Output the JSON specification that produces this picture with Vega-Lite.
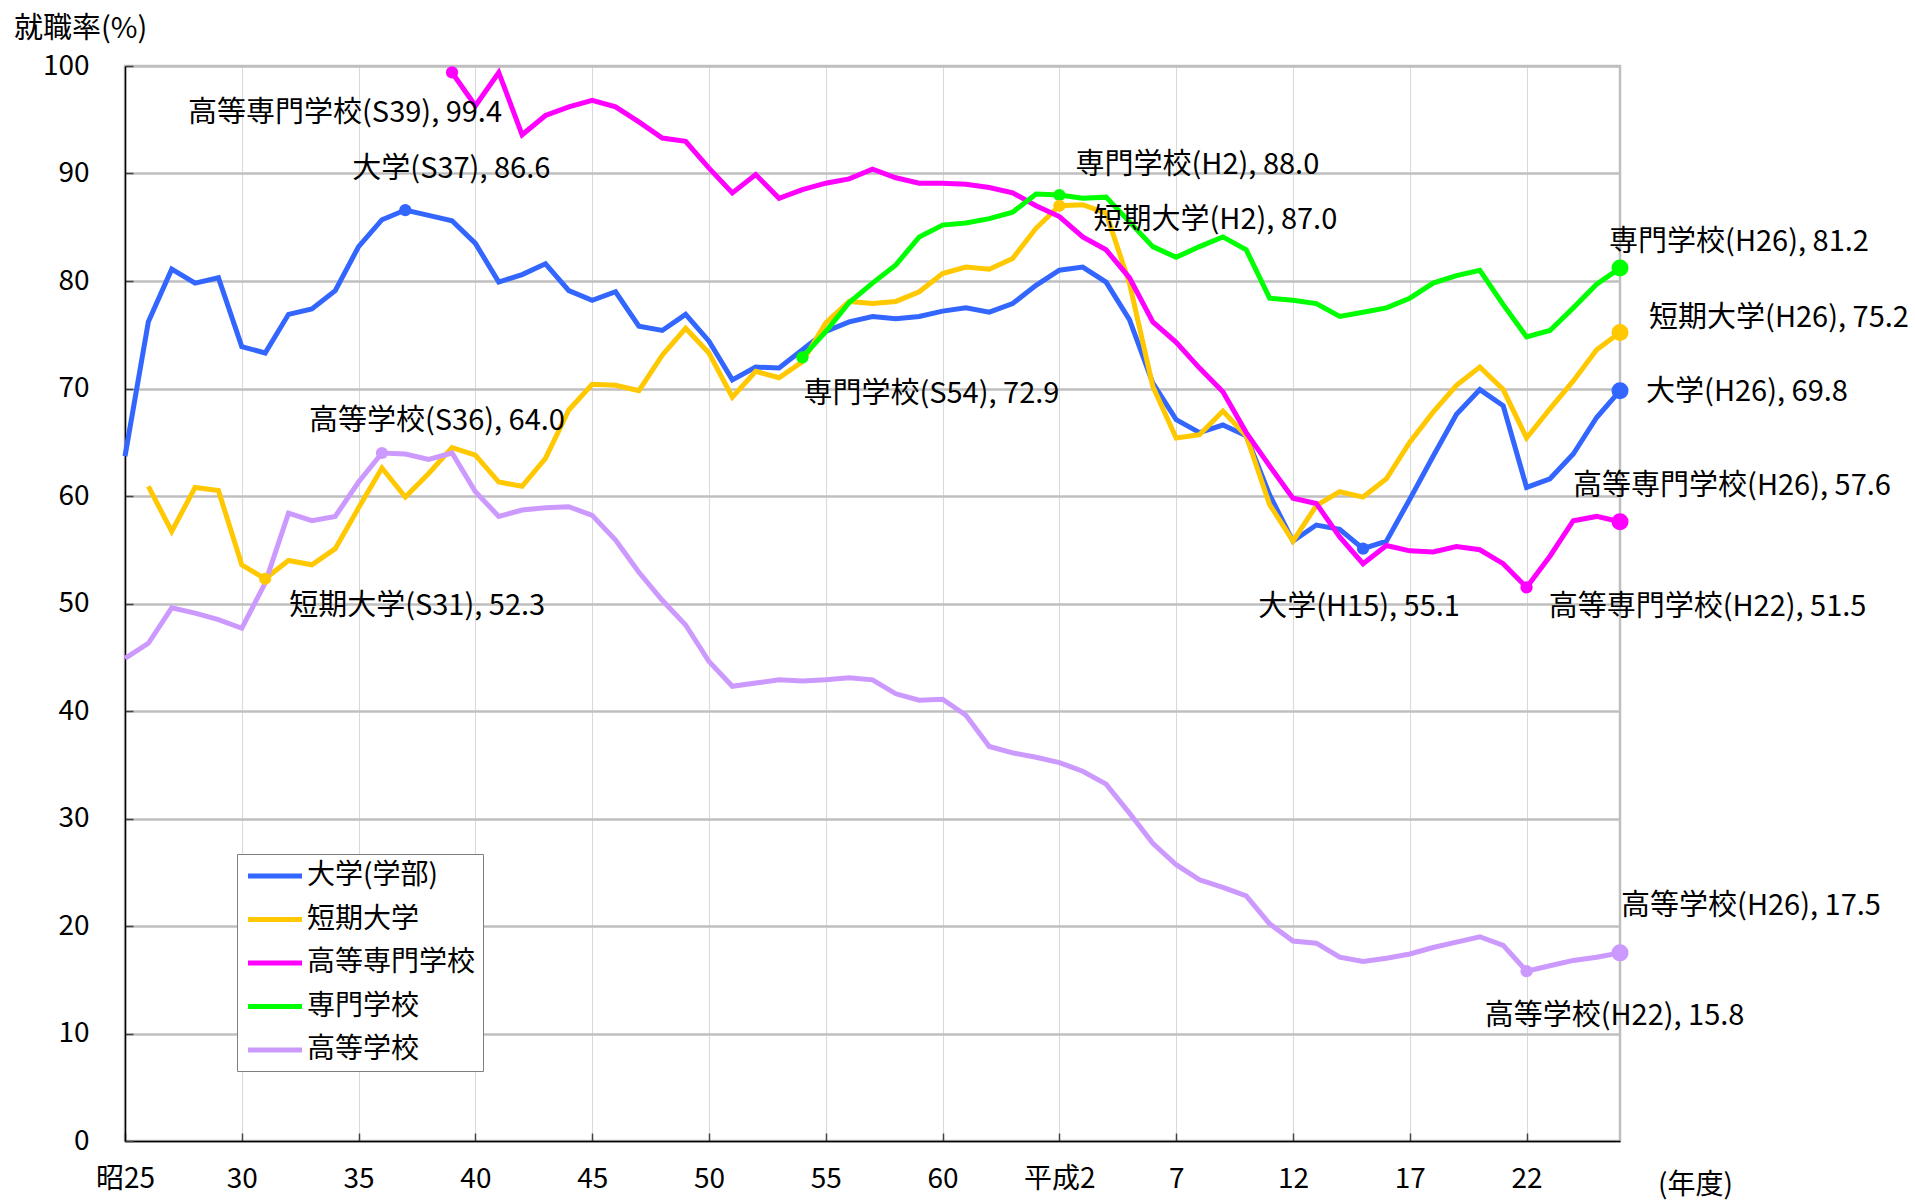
{
  "$schema": "https://vega.github.io/schema/vega-lite/v6.json",
  "autosize": {"type": "none"},
  "width": 1495,
  "height": 1075,
  "padding": {"left": 125, "top": 66, "right": 295, "bottom": 59},
  "background": "white",
  "title": {"text": "就職率(%)", "anchor": "start", "frame": "group", "fontSize": 29, "fontWeight": "normal", "font": "Noto Sans CJK JP", "color": "black", "dx": -111, "offset": -15, "baseline": "alphabetic"},
  "datasets": {
    "rates": [
      {"year":1950,"daigaku":63.7,"tandai":null,"kosen":null,"senmon":null,"koko":44.9},
      {"year":1951,"daigaku":76.2,"tandai":60.9,"kosen":null,"senmon":null,"koko":46.3},
      {"year":1952,"daigaku":81.1,"tandai":56.7,"kosen":null,"senmon":null,"koko":49.6},
      {"year":1953,"daigaku":79.8,"tandai":60.8,"kosen":null,"senmon":null,"koko":49.1},
      {"year":1954,"daigaku":80.3,"tandai":60.5,"kosen":null,"senmon":null,"koko":48.5},
      {"year":1955,"daigaku":73.9,"tandai":53.6,"kosen":null,"senmon":null,"koko":47.7},
      {"year":1956,"daigaku":73.3,"tandai":52.3,"kosen":null,"senmon":null,"koko":51.9},
      {"year":1957,"daigaku":76.9,"tandai":54.0,"kosen":null,"senmon":null,"koko":58.4},
      {"year":1958,"daigaku":77.4,"tandai":53.6,"kosen":null,"senmon":null,"koko":57.7},
      {"year":1959,"daigaku":79.1,"tandai":55.1,"kosen":null,"senmon":null,"koko":58.1},
      {"year":1960,"daigaku":83.2,"tandai":58.9,"kosen":null,"senmon":null,"koko":61.3},
      {"year":1961,"daigaku":85.7,"tandai":62.6,"kosen":null,"senmon":null,"koko":64.0},
      {"year":1962,"daigaku":86.6,"tandai":59.9,"kosen":null,"senmon":null,"koko":63.9},
      {"year":1963,"daigaku":86.1,"tandai":62.1,"kosen":null,"senmon":null,"koko":63.4},
      {"year":1964,"daigaku":85.6,"tandai":64.5,"kosen":99.4,"senmon":null,"koko":64.0},
      {"year":1965,"daigaku":83.5,"tandai":63.8,"kosen":96.3,"senmon":null,"koko":60.4},
      {"year":1966,"daigaku":79.9,"tandai":61.3,"kosen":99.4,"senmon":null,"koko":58.1},
      {"year":1967,"daigaku":80.6,"tandai":60.9,"kosen":93.6,"senmon":null,"koko":58.7},
      {"year":1968,"daigaku":81.6,"tandai":63.5,"kosen":95.4,"senmon":null,"koko":58.9},
      {"year":1969,"daigaku":79.1,"tandai":68.0,"kosen":96.2,"senmon":null,"koko":59.0},
      {"year":1970,"daigaku":78.2,"tandai":70.4,"kosen":96.8,"senmon":null,"koko":58.2},
      {"year":1971,"daigaku":79.0,"tandai":70.3,"kosen":96.2,"senmon":null,"koko":55.9},
      {"year":1972,"daigaku":75.8,"tandai":69.8,"kosen":94.8,"senmon":null,"koko":52.9},
      {"year":1973,"daigaku":75.4,"tandai":73.1,"kosen":93.3,"senmon":null,"koko":50.3},
      {"year":1974,"daigaku":76.9,"tandai":75.6,"kosen":93.0,"senmon":null,"koko":48.0},
      {"year":1975,"daigaku":74.4,"tandai":73.3,"kosen":90.5,"senmon":null,"koko":44.6},
      {"year":1976,"daigaku":70.8,"tandai":69.2,"kosen":88.2,"senmon":null,"koko":42.3},
      {"year":1977,"daigaku":72.0,"tandai":71.6,"kosen":89.9,"senmon":null,"koko":42.6},
      {"year":1978,"daigaku":71.9,"tandai":71.0,"kosen":87.7,"senmon":null,"koko":42.9},
      {"year":1979,"daigaku":73.6,"tandai":72.5,"kosen":88.5,"senmon":72.9,"koko":42.8},
      {"year":1980,"daigaku":75.3,"tandai":76.1,"kosen":89.1,"senmon":75.3,"koko":42.9},
      {"year":1981,"daigaku":76.2,"tandai":78.1,"kosen":89.5,"senmon":78.0,"koko":43.1},
      {"year":1982,"daigaku":76.7,"tandai":77.9,"kosen":90.4,"senmon":79.8,"koko":42.9},
      {"year":1983,"daigaku":76.5,"tandai":78.1,"kosen":89.6,"senmon":81.5,"koko":41.6},
      {"year":1984,"daigaku":76.7,"tandai":79.0,"kosen":89.1,"senmon":84.1,"koko":41.0},
      {"year":1985,"daigaku":77.2,"tandai":80.7,"kosen":89.1,"senmon":85.2,"koko":41.1},
      {"year":1986,"daigaku":77.5,"tandai":81.3,"kosen":89.0,"senmon":85.4,"koko":39.6},
      {"year":1987,"daigaku":77.1,"tandai":81.1,"kosen":88.7,"senmon":85.8,"koko":36.7},
      {"year":1988,"daigaku":77.9,"tandai":82.1,"kosen":88.2,"senmon":86.4,"koko":36.1},
      {"year":1989,"daigaku":79.6,"tandai":84.9,"kosen":87.0,"senmon":88.1,"koko":35.7},
      {"year":1990,"daigaku":81.0,"tandai":87.0,"kosen":86.0,"senmon":88.0,"koko":35.2},
      {"year":1991,"daigaku":81.3,"tandai":87.1,"kosen":84.1,"senmon":87.7,"koko":34.4},
      {"year":1992,"daigaku":79.9,"tandai":86.3,"kosen":82.9,"senmon":87.8,"koko":33.2},
      {"year":1993,"daigaku":76.4,"tandai":79.8,"kosen":80.3,"senmon":85.5,"koko":30.5},
      {"year":1994,"daigaku":70.5,"tandai":70.2,"kosen":76.2,"senmon":83.2,"koko":27.7},
      {"year":1995,"daigaku":67.1,"tandai":65.4,"kosen":74.3,"senmon":82.2,"koko":25.7},
      {"year":1996,"daigaku":65.9,"tandai":65.7,"kosen":71.9,"senmon":83.2,"koko":24.3},
      {"year":1997,"daigaku":66.6,"tandai":67.9,"kosen":69.7,"senmon":84.1,"koko":23.6},
      {"year":1998,"daigaku":65.6,"tandai":65.6,"kosen":65.9,"senmon":82.9,"koko":22.8},
      {"year":1999,"daigaku":60.1,"tandai":59.2,"kosen":62.8,"senmon":78.4,"koko":20.2},
      {"year":2000,"daigaku":55.8,"tandai":55.8,"kosen":59.8,"senmon":78.2,"koko":18.6},
      {"year":2001,"daigaku":57.3,"tandai":59.1,"kosen":59.3,"senmon":77.9,"koko":18.4},
      {"year":2002,"daigaku":56.9,"tandai":60.4,"kosen":56.2,"senmon":76.7,"koko":17.1},
      {"year":2003,"daigaku":55.1,"tandai":59.9,"kosen":53.7,"senmon":77.1,"koko":16.7},
      {"year":2004,"daigaku":55.8,"tandai":61.6,"kosen":55.4,"senmon":77.5,"koko":17.0},
      {"year":2005,"daigaku":59.7,"tandai":65.0,"kosen":54.9,"senmon":78.4,"koko":17.4},
      {"year":2006,"daigaku":63.7,"tandai":67.8,"kosen":54.8,"senmon":79.8,"koko":18.0},
      {"year":2007,"daigaku":67.6,"tandai":70.3,"kosen":55.3,"senmon":80.5,"koko":18.5},
      {"year":2008,"daigaku":69.9,"tandai":72.0,"kosen":55.0,"senmon":81.0,"koko":19.0},
      {"year":2009,"daigaku":68.4,"tandai":69.9,"kosen":53.7,"senmon":77.8,"koko":18.2},
      {"year":2010,"daigaku":60.8,"tandai":65.4,"kosen":51.5,"senmon":74.8,"koko":15.8},
      {"year":2011,"daigaku":61.6,"tandai":68.1,"kosen":54.4,"senmon":75.4,"koko":16.3},
      {"year":2012,"daigaku":63.9,"tandai":70.7,"kosen":57.7,"senmon":77.5,"koko":16.8},
      {"year":2013,"daigaku":67.3,"tandai":73.6,"kosen":58.1,"senmon":79.7,"koko":17.1},
      {"year":2014,"daigaku":69.8,"tandai":75.2,"kosen":57.6,"senmon":81.2,"koko":17.5}
    ],
    "pts": [
      {"s":"高等専門学校","year":1964,"v":99.4,"label":"高等専門学校(S39), 99.4"},
      {"s":"大学(学部)","year":1962,"v":86.6,"label":"大学(S37), 86.6"},
      {"s":"高等学校","year":1961,"v":64.0,"label":"高等学校(S36), 64.0"},
      {"s":"短期大学","year":1956,"v":52.3,"label":"短期大学(S31), 52.3"},
      {"s":"専門学校","year":1979,"v":72.9,"label":"専門学校(S54), 72.9"},
      {"s":"専門学校","year":1990,"v":88.0,"label":"専門学校(H2), 88.0"},
      {"s":"短期大学","year":1990,"v":87.0,"label":"短期大学(H2), 87.0"},
      {"s":"大学(学部)","year":2003,"v":55.1,"label":"大学(H15), 55.1"},
      {"s":"高等専門学校","year":2010,"v":51.5,"label":"高等専門学校(H22), 51.5"},
      {"s":"高等学校","year":2010,"v":15.8,"label":"高等学校(H22), 15.8"},
      {"s":"専門学校","year":2014,"v":81.2,"label":"専門学校(H26), 81.2"},
      {"s":"短期大学","year":2014,"v":75.2,"label":"短期大学(H26), 75.2"},
      {"s":"大学(学部)","year":2014,"v":69.8,"label":"大学(H26), 69.8"},
      {"s":"高等専門学校","year":2014,"v":57.6,"label":"高等専門学校(H26), 57.6"},
      {"s":"高等学校","year":2014,"v":17.5,"label":"高等学校(H26), 17.5"}
    ]
  },
  "encoding": {
    "x": {
      "field": "year", "type": "quantitative",
      "scale": {"domain": [1950, 2014], "nice": false, "zero": false},
      "axis": {
        "values": [1950,1955,1960,1965,1970,1975,1980,1985,1990,1995,2000,2005,2010],
        "labelExpr": "datum.value == 1950 ? '昭25' : datum.value == 1990 ? '平成2' : datum.value < 1989 ? '' + (datum.value - 1925) : '' + (datum.value - 1988)",
        "grid": true, "gridColor": "#d9d9d9", "gridWidth": 1,
        "domainColor": "black", "domainWidth": 1.5,
        "tickColor": "#444444", "tickSize": -8, "tickWidth": 1.5,
        "labelFontSize": 28, "labelColor": "black", "labelPadding": 32, "labelBaseline": "top",
        "labelFlush": false, "labelOverlap": false,
        "title": "(年度)", "titleFontSize": 28, "titleFontWeight": "normal", "titleColor": "black",
        "titleX": 1570, "titleY": 44, "titleBaseline": "middle", "titleAlign": "center"
      }
    }
  },
  "layer": [
    {
      "data": {"name": "rates"},
      "mark": {"type": "line", "strokeWidth": 5},
      "encoding": {
        "y": {
          "field": "daigaku", "type": "quantitative", "title": null,
          "scale": {"domain": [0, 100], "nice": false},
          "axis": {
            "values": [0,10,20,30,40,50,60,70,80,90,100],
            "grid": true, "gridColor": "#bfbfbf", "gridWidth": 2.5,
            "domainColor": "black", "domainWidth": 1.5,
            "tickColor": "#444444", "tickSize": -8, "tickWidth": 1.5,
            "labelFontSize": 28, "labelColor": "black", "labelPadding": 44,
            "title": null
          }
        },
        "color": {
          "datum": "大学(学部)",
          "scale": {"domain": ["大学(学部)", "短期大学", "高等専門学校", "専門学校", "高等学校"], "range": ["#3366ff", "#ffc800", "#ff00ff", "#00ff00", "#cc99ff"]},
          "legend": {
            "orient": "none", "legendX": 112, "legendY": 788, "title": null,
            "symbolType": "M-0.88,0H3.44", "symbolSize": 625, "symbolStrokeWidth": 5,
            "labelFontSize": 28, "labelFont": "Noto Sans CJK JP", "labelColor": "black", "labelLimit": 400,
            "fillColor": "white", "strokeColor": "#7f7f7f", "padding": 7, "rowPadding": 14.5, "labelOffset": 33
          }
        }
      }
    },
    {
      "data": {"name": "rates"},
      "mark": {"type": "line", "strokeWidth": 5},
      "encoding": {"y": {"field": "tandai", "type": "quantitative", "title": null}, "color": {"datum": "短期大学"}}
    },
    {
      "data": {"name": "rates"},
      "mark": {"type": "line", "strokeWidth": 5},
      "encoding": {"y": {"field": "kosen", "type": "quantitative", "title": null}, "color": {"datum": "高等専門学校"}}
    },
    {
      "data": {"name": "rates"},
      "mark": {"type": "line", "strokeWidth": 5},
      "encoding": {"y": {"field": "senmon", "type": "quantitative", "title": null}, "color": {"datum": "専門学校"}}
    },
    {
      "data": {"name": "rates"},
      "mark": {"type": "line", "strokeWidth": 5},
      "encoding": {"y": {"field": "koko", "type": "quantitative", "title": null}, "color": {"datum": "高等学校"}}
    },
    {
      "data": {"name": "pts"},
      "transform": [{"filter": "datum.year < 2014"}],
      "mark": {"type": "circle", "size": 150, "opacity": 1},
      "encoding": {
        "y": {"field": "v", "type": "quantitative", "title": null},
        "fill": {"field": "s", "type": "nominal", "legend": null, "scale": {"domain": ["大学(学部)", "短期大学", "高等専門学校", "専門学校", "高等学校"], "range": ["#3366ff", "#ffc800", "#ff00ff", "#00ff00", "#cc99ff"]}}
      }
    },
    {
      "data": {"name": "pts"},
      "transform": [{"filter": "datum.year == 2014"}],
      "mark": {"type": "circle", "size": 290, "opacity": 1},
      "encoding": {
        "y": {"field": "v", "type": "quantitative", "title": null},
        "fill": {"field": "s", "type": "nominal", "legend": null}
      }
    },
    {"data": {"name": "pts"}, "transform": [{"filter": {"field": "label", "equal": "高等専門学校(S39), 99.4"}}], "mark": {"type": "text", "dx": -107, "dy": 41, "fontSize": 29, "font": "Noto Sans CJK JP", "color": "black", "baseline": "middle"}, "encoding": {"y": {"field": "v", "type": "quantitative", "title": null}, "text": {"field": "label"}}},
    {"data": {"name": "pts"}, "transform": [{"filter": {"field": "label", "equal": "大学(S37), 86.6"}}], "mark": {"type": "text", "dx": 46, "dy": -41, "fontSize": 29, "font": "Noto Sans CJK JP", "color": "black", "baseline": "middle"}, "encoding": {"y": {"field": "v", "type": "quantitative", "title": null}, "text": {"field": "label"}}},
    {"data": {"name": "pts"}, "transform": [{"filter": {"field": "label", "equal": "高等学校(S36), 64.0"}}], "mark": {"type": "text", "dx": 55, "dy": -32, "fontSize": 29, "font": "Noto Sans CJK JP", "color": "black", "baseline": "middle"}, "encoding": {"y": {"field": "v", "type": "quantitative", "title": null}, "text": {"field": "label"}}},
    {"data": {"name": "pts"}, "transform": [{"filter": {"field": "label", "equal": "短期大学(S31), 52.3"}}], "mark": {"type": "text", "dx": 152, "dy": 27, "fontSize": 29, "font": "Noto Sans CJK JP", "color": "black", "baseline": "middle"}, "encoding": {"y": {"field": "v", "type": "quantitative", "title": null}, "text": {"field": "label"}}},
    {"data": {"name": "pts"}, "transform": [{"filter": {"field": "label", "equal": "専門学校(S54), 72.9"}}], "mark": {"type": "text", "dx": 129, "dy": 37, "fontSize": 29, "font": "Noto Sans CJK JP", "color": "black", "baseline": "middle"}, "encoding": {"y": {"field": "v", "type": "quantitative", "title": null}, "text": {"field": "label"}}},
    {"data": {"name": "pts"}, "transform": [{"filter": {"field": "label", "equal": "専門学校(H2), 88.0"}}], "mark": {"type": "text", "dx": 138, "dy": -30, "fontSize": 29, "font": "Noto Sans CJK JP", "color": "black", "baseline": "middle"}, "encoding": {"y": {"field": "v", "type": "quantitative", "title": null}, "text": {"field": "label"}}},
    {"data": {"name": "pts"}, "transform": [{"filter": {"field": "label", "equal": "短期大学(H2), 87.0"}}], "mark": {"type": "text", "dx": 156, "dy": 14, "fontSize": 29, "font": "Noto Sans CJK JP", "color": "black", "baseline": "middle"}, "encoding": {"y": {"field": "v", "type": "quantitative", "title": null}, "text": {"field": "label"}}},
    {"data": {"name": "pts"}, "transform": [{"filter": {"field": "label", "equal": "大学(H15), 55.1"}}], "mark": {"type": "text", "dx": -4, "dy": 58, "fontSize": 29, "font": "Noto Sans CJK JP", "color": "black", "baseline": "middle"}, "encoding": {"y": {"field": "v", "type": "quantitative", "title": null}, "text": {"field": "label"}}},
    {"data": {"name": "pts"}, "transform": [{"filter": {"field": "label", "equal": "高等専門学校(H22), 51.5"}}], "mark": {"type": "text", "dx": 181, "dy": 20, "fontSize": 29, "font": "Noto Sans CJK JP", "color": "black", "baseline": "middle"}, "encoding": {"y": {"field": "v", "type": "quantitative", "title": null}, "text": {"field": "label"}}},
    {"data": {"name": "pts"}, "transform": [{"filter": {"field": "label", "equal": "高等学校(H22), 15.8"}}], "mark": {"type": "text", "dx": 88, "dy": 45, "fontSize": 29, "font": "Noto Sans CJK JP", "color": "black", "baseline": "middle"}, "encoding": {"y": {"field": "v", "type": "quantitative", "title": null}, "text": {"field": "label"}}},
    {"data": {"name": "pts"}, "transform": [{"filter": {"field": "label", "equal": "専門学校(H26), 81.2"}}], "mark": {"type": "text", "dx": 119, "dy": -26, "fontSize": 29, "font": "Noto Sans CJK JP", "color": "black", "baseline": "middle"}, "encoding": {"y": {"field": "v", "type": "quantitative", "title": null}, "text": {"field": "label"}}},
    {"data": {"name": "pts"}, "transform": [{"filter": {"field": "label", "equal": "短期大学(H26), 75.2"}}], "mark": {"type": "text", "dx": 159, "dy": -15, "fontSize": 29, "font": "Noto Sans CJK JP", "color": "black", "baseline": "middle"}, "encoding": {"y": {"field": "v", "type": "quantitative", "title": null}, "text": {"field": "label"}}},
    {"data": {"name": "pts"}, "transform": [{"filter": {"field": "label", "equal": "大学(H26), 69.8"}}], "mark": {"type": "text", "dx": 127, "dy": 1, "fontSize": 29, "font": "Noto Sans CJK JP", "color": "black", "baseline": "middle"}, "encoding": {"y": {"field": "v", "type": "quantitative", "title": null}, "text": {"field": "label"}}},
    {"data": {"name": "pts"}, "transform": [{"filter": {"field": "label", "equal": "高等専門学校(H26), 57.6"}}], "mark": {"type": "text", "dx": 112, "dy": -36, "fontSize": 29, "font": "Noto Sans CJK JP", "color": "black", "baseline": "middle"}, "encoding": {"y": {"field": "v", "type": "quantitative", "title": null}, "text": {"field": "label"}}},
    {"data": {"name": "pts"}, "transform": [{"filter": {"field": "label", "equal": "高等学校(H26), 17.5"}}], "mark": {"type": "text", "dx": 131, "dy": -47, "fontSize": 29, "font": "Noto Sans CJK JP", "color": "black", "baseline": "middle"}, "encoding": {"y": {"field": "v", "type": "quantitative", "title": null}, "text": {"field": "label"}}}
  ],
  "config": {
    "font": "Noto Sans CJK JP",
    "view": {"stroke": "#bfbfbf", "strokeWidth": 2.5}
  }
}
